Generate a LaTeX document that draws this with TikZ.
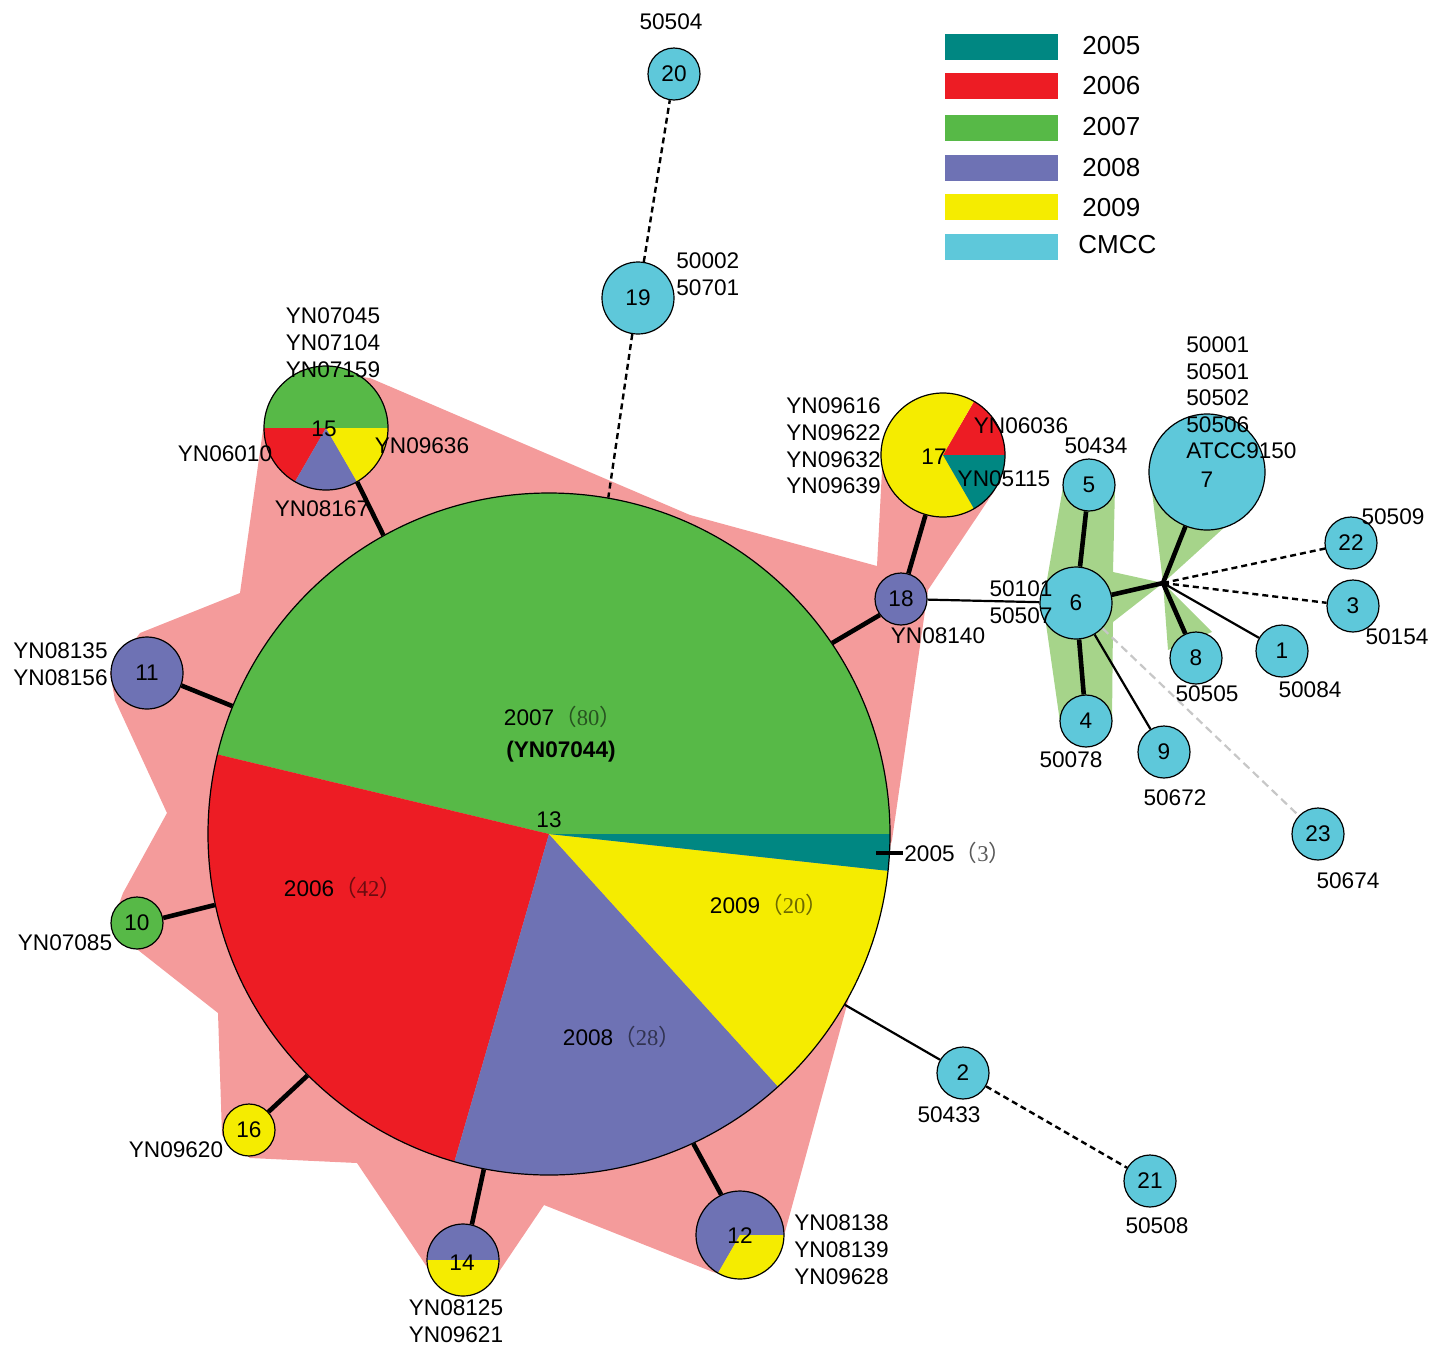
\documentclass[tikz,border=0pt]{standalone}
\usepackage{fontspec}
\setmainfont{Liberation Sans}
\newfontfamily\cjkf{Noto Sans CJK SC}
\newfontfamily\serf{Liberation Serif}
\pgfdeclarelayer{hull}
\pgfdeclarelayer{edges}
\pgfsetlayers{hull,edges,main}
\definecolor{c05}{RGB}{0,135,130}
\definecolor{c06}{RGB}{237,28,36}
\definecolor{c07}{RGB}{87,185,71}
\definecolor{c08}{RGB}{110,114,180}
\definecolor{c09}{RGB}{245,236,0}
\definecolor{cmcc}{RGB}{94,200,218}
\definecolor{pinkhull}{RGB}{244,155,155}
\definecolor{greenhull}{RGB}{166,212,138}
\newcommand\fsz{\fontsize{11.3}{13.4}\selectfont}
\newcommand\lsz{\fontsize{13}{15}\selectfont}
\newcommand\pct[2]{{\color{#2}\cjkf （}{\color{#2}\serf #1}{\color{#2}\cjkf ）}}
\newcommand\pieslice[5]{\fill[#5] (#1) -- ++(#3:#2) arc[start angle=#3, end angle=#4, radius=#2] -- cycle;}
\begin{document}
\begin{tikzpicture}[x=0.5pt,y=-0.5pt,
  nd/.style={circle, draw=black, line width=0.6pt, inner sep=0pt, font=\fsz},
  lab/.style={font=\fsz, inner sep=0pt, align=center},
  thk/.style={line width=2.3pt},
  thn/.style={line width=1.1pt},
  dsh/.style={line width=1.2pt, dash pattern=on 3pt off 2pt},
  gdsh/.style={line width=1.1pt, draw=black!22, dash pattern=on 4pt off 2.5pt},
  legbox/.style={minimum width=56.5pt, minimum height=13pt, inner sep=0pt},
  leglab/.style={font=\lsz, inner sep=0pt, anchor=west}]
\useasboundingbox (0,0) rectangle (1441,1356);

% ---------- hulls ----------
\begin{pgfonlayer}{hull}
\fill[pinkhull] (370,378) -- (690,515) -- (877,566) -- (882,470) -- (943,400) -- (995,490)
  -- (928,590) -- (892,840) -- (785,1232) -- (740,1279) -- (713,1272) -- (544,1205)
  -- (490,1285) -- (463,1297) -- (427,1267) -- (357,1163) -- (250,1158) -- (222,1135)
  -- (218,1013) -- (138,950) -- (112,923) -- (123,893) -- (167,813) -- (115,700)
  -- (110,673) -- (140,633) -- (240,593) -- (263,430) -- (300,370) -- cycle;
\fill[greenhull] (1063,487) -- (1115,487) -- (1113,572) -- (1163,583) -- (1113,622)
  -- (1112,722) -- (1060,722) -- (1043,603) -- cycle;
\fill[greenhull] (1150,475) -- (1238,515) -- (1163,583) -- cycle;
\fill[greenhull] (1163,583) -- (1168,650) -- (1212,632) -- cycle;
\end{pgfonlayer}

% ---------- pies ----------
\pieslice{549,834}{170.5pt}{0}{166.5}{c07}
\pieslice{549,834}{170.5pt}{166.5}{253.9}{c06}
\pieslice{549,834}{170.5pt}{253.9}{312.2}{c08}
\pieslice{549,834}{170.5pt}{312.2}{353.8}{c09}
\pieslice{549,834}{170.5pt}{353.8}{360}{c05}

\pieslice{326,428}{31pt}{0}{180}{c07}
\pieslice{326,428}{31pt}{180}{240}{c06}
\pieslice{326,428}{31pt}{240}{300}{c08}
\pieslice{326,428}{31pt}{300}{360}{c09}

\pieslice{943,455}{31pt}{0}{60}{c06}
\pieslice{943,455}{31pt}{60}{300}{c09}
\pieslice{943,455}{31pt}{300}{360}{c05}

\pieslice{463,1260}{18pt}{0}{180}{c08}
\pieslice{463,1260}{18pt}{180}{360}{c09}

\pieslice{740,1235}{22pt}{0}{240}{c08}
\pieslice{740,1235}{22pt}{240}{360}{c09}

% ---------- nodes ----------
\node[nd, minimum size=341pt] (n13) at (549,834) {};
\node[nd, minimum size=62pt] (n15) at (326,428) {};
\node[nd, minimum size=62pt] (n17) at (943,455) {};
\node[nd, minimum size=36pt] (n14) at (463,1260) {};
\node[nd, minimum size=44pt] (n12) at (740,1235) {};
\node[nd, minimum size=36pt, fill=c08] (n11) at (147,673) {11};
\node[nd, minimum size=26pt, fill=c07] (n10) at (137,923) {10};
\node[nd, minimum size=26pt, fill=c09] (n16) at (249,1130) {16};
\node[nd, minimum size=26pt, fill=c08] (n18) at (901,599) {18};
\node[nd, minimum size=36pt, fill=cmcc] (n19) at (638,298) {19};
\node[nd, minimum size=26pt, fill=cmcc] (n20) at (674,74) {20};
\node[nd, minimum size=26pt, fill=cmcc] (n2) at (963,1073) {2};
\node[nd, minimum size=26pt, fill=cmcc] (n21) at (1150,1181) {21};
\node[nd, minimum size=36pt, fill=cmcc] (n6) at (1076,603) {6};
\node[nd, minimum size=26pt, fill=cmcc] (n5) at (1089,485) {5};
\node[nd, minimum size=26pt, fill=cmcc] (n4) at (1086,721) {4};
\node[nd, minimum size=26pt, fill=cmcc] (n9) at (1164,752) {9};
\node[nd, minimum size=26pt, fill=cmcc] (n23) at (1318,834) {23};
\node[nd, minimum size=26pt, fill=cmcc] (n8) at (1196,658) {8};
\node[nd, minimum size=26pt, fill=cmcc] (n1) at (1282,651) {1};
\node[nd, minimum size=26pt, fill=cmcc] (n3) at (1353,606) {3};
\node[nd, minimum size=26pt, fill=cmcc] (n22) at (1351,543) {22};
\node[nd, minimum size=58pt, fill=cmcc] (n7) at (1207,472) {};
\coordinate (hub) at (1163,583);
\coordinate (tA) at (876,853);
\coordinate (tB) at (903,853);

% ---------- edges ----------
\begin{pgfonlayer}{edges}
\draw[thk] (n15.-60) -- (n13.119);
\draw[thk] (n11.-20) -- (n13.158);
\draw[thk] (n10.11) -- (n13.192);
\draw[thk] (n16.43) -- (n13.225);
\draw[thk] (n14.76) -- (n13.259);
\draw[thk] (n12.115) -- (n13.295);
\draw[thk] (n18.217) -- (n13.34);
\draw[thk] (n17) -- (n18);
\draw[thn] (n2) -- (n13);
\draw[dsh] (n2) -- (n21);
\draw[dsh] (n19.261) -- (n13.80);
\draw[dsh] (n19) -- (n20);
\draw[thn] (n18) -- (n6);
\draw[thk] (n5) -- (n6);
\draw[thk] (n6) -- (n4);
\draw[thk] (n6) -- (hub);
\draw[thk] (hub) -- (n7);
\draw[thk] (hub) -- (n8);
\draw[thn] (hub) -- (n1);
\draw[dsh] (hub) -- (n22);
\draw[dsh] (hub) -- (n3);
\draw[thn] (n6) -- (n9);
\draw[gdsh] (n6) -- (n23);
\end{pgfonlayer}
\draw[thk] (tA) -- (tB);

% ---------- texts ----------
\node[lab] (t13) at (549,820) {13};
\node[lab] (t15) at (324,429) {15};
\node[lab] (t17) at (934,457) {17};
\node[lab] (t14) at (462,1263) {14};
\node[lab] (t12) at (740,1236) {12};
\node[lab] (t7) at (1207,480) {7};
\node[lab] (p07) at (563,717) {2007\pct{80}{black!55!c07}};
\node[lab, font=\fsz\bfseries] (p07b) at (561,752) {(YN07044)};
\node[lab] (p06) at (343,888) {2006\pct{42}{black!55!c06}};
\node[lab] (p09) at (769,905) {2009\pct{20}{black!55!c09}};
\node[lab] (p08) at (622,1037) {2008\pct{28}{black!55!c08}};
\node[lab, anchor=west] (p05) at (904,853) {2005\pct{3}{black!65}};

\node[lab] (l20) at (671,22) {50504};
\node[lab, anchor=west, align=left] (l19) at (676,274) {50002\\50701};
\node[lab] (l15a) at (333,343) {YN07045\\YN07104\\YN07159};
\node[lab] (l15b) at (225,454) {YN06010};
\node[lab] (l15c) at (422,446) {YN09636};
\node[lab] (l15d) at (322,509) {YN08167};
\node[lab, anchor=east, align=right] (l17a) at (881,446) {YN09616\\YN09622\\YN09632\\YN09639};
\node[lab] (l17b) at (1021,426) {YN06036};
\node[lab] (l17c) at (1004,479) {YN05115};
\node[lab] (l18) at (938,636) {YN08140};
\node[lab, anchor=east, align=right] (l11) at (108,664) {YN08135\\YN08156};
\node[lab] (l10) at (65,943) {YN07085};
\node[lab] (l16) at (176,1150) {YN09620};
\node[lab] (l14) at (456,1321) {YN08125\\YN09621};
\node[lab, anchor=west, align=left] (l12) at (794,1250) {YN08138\\YN08139\\YN09628};
\node[lab] (l2) at (949,1115) {50433};
\node[lab] (l21) at (1157,1226) {50508};
\node[lab] (l6) at (1021,602) {50101\\50507};
\node[lab] (l5) at (1096,446) {50434};
\node[lab] (l4) at (1071,760) {50078};
\node[lab] (l9) at (1175,798) {50672};
\node[lab] (l23) at (1348,881) {50674};
\node[lab] (l8) at (1207,694) {50505};
\node[lab] (l1) at (1310,690) {50084};
\node[lab] (l3) at (1397,637) {50154};
\node[lab] (l22) at (1393,517) {50509};
\node[lab, anchor=west, align=left, font=\fontsize{11.3}{13.3}\selectfont] (l7) at (1186,398) {50001\\50501\\50502\\50506\\ATCC9150};

% ---------- legend ----------
\node[legbox, fill=c05] (k05) at (1001.5,47) {};
\node[legbox, fill=c06] (k06) at (1001.5,86) {};
\node[legbox, fill=c07] (k07) at (1001.5,127.5) {};
\node[legbox, fill=c08] (k08) at (1001.5,167.5) {};
\node[legbox, fill=c09] (k09) at (1001.5,207) {};
\node[legbox, fill=cmcc] (kcm) at (1001.5,246.5) {};
\node[leglab] (kl05) at (1082,46) {2005};
\node[leglab] (kl06) at (1082,86) {2006};
\node[leglab] (kl07) at (1082,127) {2007};
\node[leglab] (kl08) at (1082,168) {2008};
\node[leglab] (kl09) at (1082,208) {2009};
\node[leglab] (klcm) at (1078,245) {CMCC};
\end{tikzpicture}
\end{document}
